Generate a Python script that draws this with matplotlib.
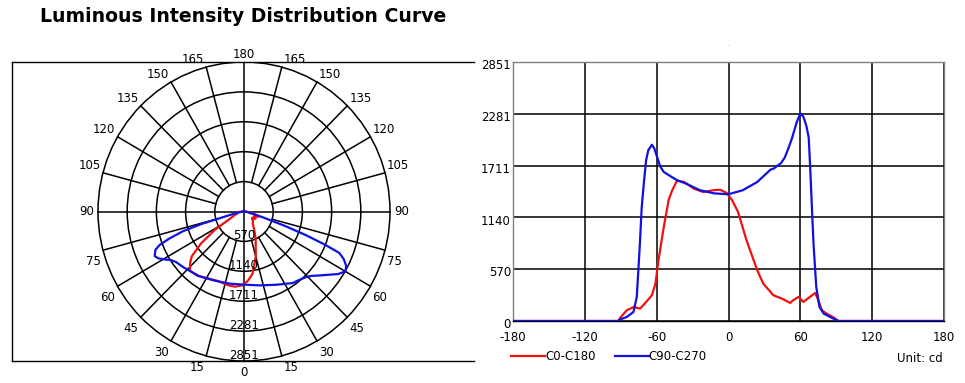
import numpy as np
import matplotlib
matplotlib.use("Agg")
import matplotlib.pyplot as plt
from matplotlib.patches import Circle
import matplotlib.transforms as mtransforms

# intensity values (cd), angle in degrees from nadir
red_angle = [-180, -92, -91, -85, -79, -74, -70, -64, -61, -58.5, -54, -50, -47, -43,
             -37, -29, -21, -12.5, -7, -1.5, 3, 8, 15, 24, 29, 37.5, 44.5, 51.5, 54,
             58.5, 62.5, 68, 72.5, 75, 78, 82, 88, 91, 92, 180]
red_cd = [0, 0, 26, 118, 155, 136, 191, 283, 412, 670, 1038, 1332, 1439, 1545,
          1530, 1457, 1420, 1440, 1445, 1410, 1330, 1200, 890, 559, 412, 283, 247, 199, 228,
          265, 210, 265, 309, 228, 118, 81, 37, 7, 0, 0]

blue_angle = [-180, -92, -91, -85, -79.4, -76.6, -74, -72.5, -70.5, -68.8, -67, -64, -62,
              -59, -57, -54, -48, -43, -35, -24, -12, 0, 12, 24, 35, 38, 44, 47, 50,
              53, 57, 60, 62.5, 65, 67, 68.2, 69.5, 71, 73.3, 76, 79.5, 85, 90.5, 92, 180]
blue_cd = [0, 0, 15, 44, 99, 265, 854, 1250, 1550, 1769, 1880, 1940, 1900,
           1780, 1700, 1640, 1590, 1550, 1510, 1440, 1405, 1395, 1440, 1530, 1665, 1680, 1740, 1800, 1900,
           2010, 2190, 2285, 2250, 2150, 2020, 1700, 1300, 854, 375, 155, 81, 44, 7, 0, 0]

ring_values = [570, 1140, 1711, 2281, 2851]
angle_labels = [0, 15, 30, 45, 60, 75, 90, 105, 120, 135, 150, 165, 180]
x_ticks = [-180, -120, -60, 0, 60, 120, 180]

RMAX = 2851
RED = "#f01010"
BLUE = "#1010e0"

plt.rcParams["font.family"] = "DejaVu Sans"
plt.rcParams["font.size"] = 8.5
plt.rcParams["axes.unicode_minus"] = False

fig = plt.figure(figsize=(9.65, 3.83), dpi=100)

fig.text(243 / 965, 1 - 17 / 383, "Luminous Intensity Distribution Curve",
         ha="center", va="center", fontsize=13.6, fontweight="bold")
fig.text(728 / 965, 1 - 45 / 383, "-", ha="center", va="center", fontsize=5, color="#bbbbbb")

# ---- polar curve (drawn on a plain axes) ----
ax1 = fig.add_axes([12 / 965, 22 / 383, 462 / 965, 299 / 383])
ax1.set_xlim(-232 / 146 * RMAX, 230 / 146 * RMAX)
ax1.set_ylim(-RMAX, RMAX)
ax1.set_xticks([])
ax1.set_yticks([])
ax1.spines["right"].set_visible(False)
for s in ["left", "top", "bottom"]:
    ax1.spines[s].set_linewidth(1.0)

for r in ring_values:
    ax1.add_patch(Circle((0, 0), r, fill=False, ec="black", lw=1.1, zorder=1))
for a in range(15, 180, 15):
    if a == 90:
        continue
    t = np.radians(a)
    for sgn in (-1, 1):
        ax1.plot([sgn * 570 * np.sin(t), sgn * RMAX * np.sin(t)],
                 [-570 * np.cos(t), -RMAX * np.cos(t)], color="black", lw=1.1, zorder=1)
ax1.plot([0, 0], [-RMAX, RMAX], color="black", lw=1.1, zorder=1)
ax1.plot([-RMAX, RMAX], [0, 0], color="black", lw=1.1, zorder=1)

for r in ring_values:
    ax1.annotate(str(r), (0, -r), xytext=(0, 1.5), textcoords="offset points",
                 ha="center", va="baseline", zorder=4)

for a in angle_labels:
    t = np.radians(a)
    for sgn in (-1, 1):
        if a in (0, 180) and sgn == 1:
            continue
        x = sgn * RMAX * np.sin(t)
        y = -RMAX * np.cos(t)
        if a in (0, 180):
            ha = "center"
            dx = 0
        else:
            ha = "left" if sgn > 0 else "right"
            dx = 1.5 * sgn
        if a < 90:
            va, dy = "top", -3.5
        elif a > 90:
            va, dy = "bottom", 0.5
        else:
            va, dy = "center", 0
            dx = 3 * sgn
        ax1.annotate(str(a), (x, y), xytext=(dx, dy), textcoords="offset points",
                     ha=ha, va=va, annotation_clip=False)

ra = np.radians(red_angle)
ba = np.radians(blue_angle)
ax1.plot(np.array(red_cd) * np.sin(ra), -np.array(red_cd) * np.cos(ra), color=RED, lw=1.6, zorder=3)
ax1.plot(np.array(blue_cd) * np.sin(ba), -np.array(blue_cd) * np.cos(ba), color=BLUE, lw=1.6, zorder=3)

# ---- cartesian curve ----
ax2 = fig.add_axes([513 / 965, 62 / 383, 431 / 965, 259 / 383])
ax2.plot(red_angle, red_cd, color=RED, lw=1.6, label="C0-C180", zorder=3)
ax2.plot(blue_angle, blue_cd, color=BLUE, lw=1.6, label="C90-C270", zorder=4)
ax2.set_xlim(-180, 180)
ax2.set_ylim(0, RMAX)
ax2.set_xticks(x_ticks)
ax2.set_yticks(ring_values[::-1] + [0])
ax2.set_yticklabels([str(v) for v in ring_values[::-1]] + ["0"])
ax2.grid(True, color="black", lw=1.1)
ax2.set_axisbelow(True)
ax2.tick_params(length=0, pad=7)
ax2.tick_params(axis="y", pad=1.5)
for s in ax2.spines.values():
    s.set_color("#808080")
    s.set_linewidth(1.0)
ax2.spines["bottom"].set_color("black")
off = mtransforms.ScaledTranslation(0, -1.5 / 72, fig.dpi_scale_trans)
for lbl in ax2.get_yticklabels():
    lbl.set_transform(lbl.get_transform() + off)

fig.legend(loc="center left", bbox_to_anchor=(511 / 965, 1 - 357 / 383), ncol=2,
           frameon=False, handlelength=2.9, handletextpad=0.0, columnspacing=1.6,
           borderpad=0, borderaxespad=0, fontsize=8.5)
fig.text(943 / 965, 1 - 359 / 383, "Unit: cd", ha="right", va="center", fontsize=8.5)

fig.savefig("out.png", dpi=100)
